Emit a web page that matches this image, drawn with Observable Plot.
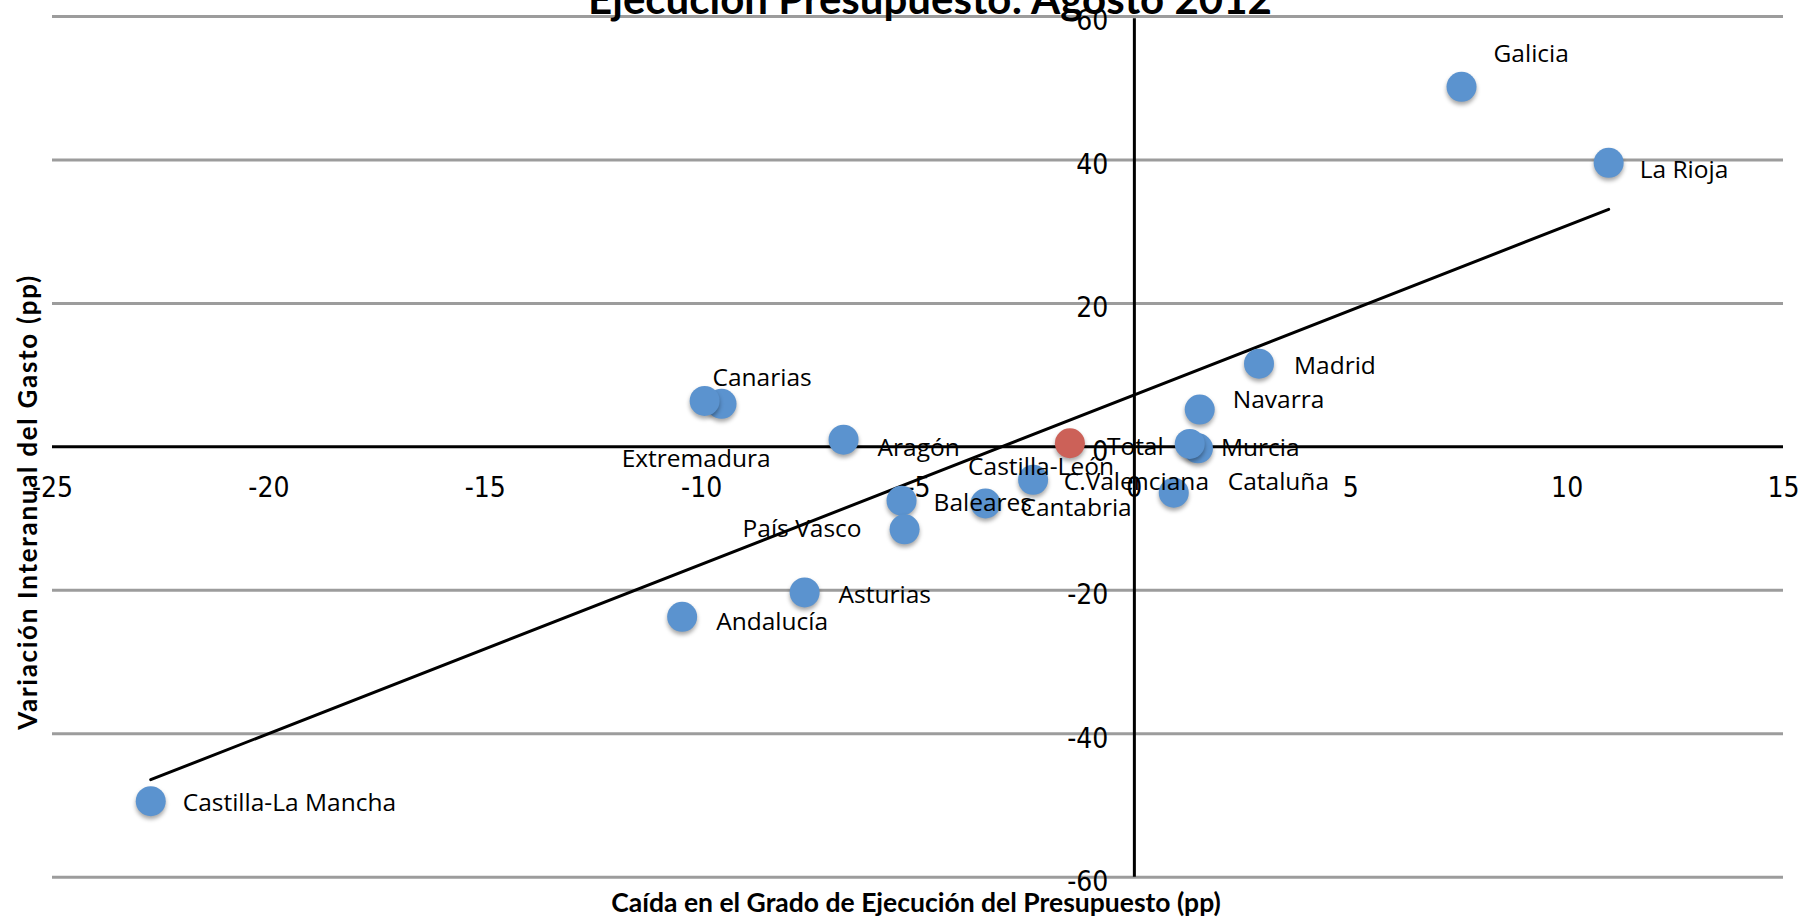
<!DOCTYPE html>
<html>
<head>
<meta charset="utf-8">
<script src="https://cdn.jsdelivr.net/npm/d3@7"></script>
<script src="https://cdn.jsdelivr.net/npm/@observablehq/plot@0.6"></script>
<style>
  html, body { margin: 0; padding: 0; background: #fff; overflow: hidden; }
  #wrap { position: relative; width: 1802px; height: 919px; }
  .title { position: absolute; left: 930px; top: -23px; transform: translateX(-50%);
           font-family: Lato, sans-serif; font-weight: bold; font-size: 42px; line-height: 42px; white-space: nowrap; color: #000; }
  .xtitle { position: absolute; left: 916px; top: 889px; transform: translateX(-50%);
           font-family: Lato, sans-serif; font-weight: bold; font-size: 26.5px; line-height: 26px; white-space: nowrap; color: #000; }
  .ytitle { position: absolute; left: 27px; top: 502px; transform: translate(-50%, -50%) rotate(-90deg);
           font-family: Lato, sans-serif; font-weight: bold; font-size: 26px; line-height: 26px; letter-spacing: 1.7px; white-space: nowrap; color: #000; }
  svg g[aria-label="dot"] circle { filter: drop-shadow(0px 3px 2px rgba(0,0,0,0.35)); }
</style>
</head>
<body>
<div id="wrap">
  <div id="chart"></div>
  <div class="title">Ejecución Presupuesto: Agosto 2012</div>
  <div class="ytitle">Variación Interanual del Gasto (pp)</div>
  <div class="xtitle">Caída en el Grado de Ejecución del Presupuesto (pp)</div>
</div>
<script>
const regiones = ["Galicia","La Rioja","Madrid","Navarra","Murcia","C.Valenciana","Cataluña","Castilla-León","Cantabria","Baleares","País Vasco","Aragón","Canarias","Extremadura","Asturias","Andalucía","Castilla-La Mancha"];
const caida = [7.56, 10.96, 2.88, 1.51, 1.47, 1.28, 0.91, -2.34, -3.44, -5.38, -5.31, -6.72, -9.54, -9.93, -7.62, -10.45, -22.73];
const variacion = [50.2, 39.6, 11.6, 5.2, -0.2, 0.4, -6.4, -4.6, -7.9, -7.5, -11.5, 1.0, 6.0, 6.4, -20.3, -23.7, -49.4];
const totalNombre = ["Total"];
const totalCaida = [-1.49];
const totalVariacion = [0.5];
const xTicks = [-25, -20, -15, -10, -5, 0, 5, 10, 15];
const yTicks = [-60, -40, -20, 0, 20, 40, 60];

// label placement (pixel offsets from each point)
const labelOffset = {
  "Galicia": [32, -33], "La Rioja": [31, 7], "Madrid": [35, 3], "Navarra": [33, -9],
  "Murcia": [23, 0], "C.Valenciana": [-126, 38], "Cataluña": [54, -11], "Castilla-León": [-65, -13],
  "Cantabria": [35, 5], "Baleares": [32, 3], "País Vasco": [-162, 0], "Aragón": [34, 8],
  "Canarias": [-9, -26], "Extremadura": [-83, 58], "Asturias": [34, 3], "Andalucía": [34, 5],
  "Castilla-La Mancha": [32, 2], "Total": [37, 4]
};

const data = regiones.map((n, i) => ({name: n, x: caida[i], y: variacion[i]}));
const total = totalNombre.map((n, i) => ({name: n, x: totalCaida[i], y: totalVariacion[i]}));

const labelFont = {fontFamily: "'Open Sans', sans-serif", fontSize: 24.5, fill: "#000"};
const tickFont = {fontFamily: "'Liberation Sans Narrow', 'DejaVu Sans Condensed', sans-serif", fontSize: 28, fill: "#000"};

const labels = [...data, ...total].map(d => Plot.text([d], {
  x: "x", y: "y", text: "name", textAnchor: "start",
  dx: labelOffset[d.name][0], dy: labelOffset[d.name][1], ...labelFont
}));

const plot = Plot.plot({
  width: 1802,
  height: 919,
  marginLeft: 52,
  marginRight: 19,
  marginTop: 16,
  marginBottom: 42.3,
  x: {domain: [-25, 15], axis: null},
  y: {domain: [-60, 60], axis: null},
  style: {background: "#fff", overflow: "visible"},
  marks: [
    Plot.ruleY(yTicks.filter(d => d !== 0), {y: d => d, stroke: "#9c9c9c", strokeWidth: 3}),
    Plot.ruleY([0], {stroke: "#000", strokeWidth: 3}),
    Plot.ruleX([0], {stroke: "#000", strokeWidth: 3, y1: -60, y2: 59.7}),
    Plot.text(xTicks, {x: d => d, y: 0, dy: 41, text: d => String(d), textAnchor: "middle", ...tickFont}),
    Plot.text(yTicks, {x: 0, y: d => d, dx: -26, dy: 5, text: d => String(d), textAnchor: "end", ...tickFont}),
    Plot.linearRegressionY(data, {x: "x", y: "y", stroke: "#000", strokeWidth: 3, ci: 0}),
    Plot.dot(data, {x: "x", y: "y", r: 15, fill: "#5b93cf"}),
    Plot.dot(total, {x: "x", y: "y", r: 15, fill: "#cc6158"}),
    ...labels
  ]
});
document.getElementById("chart").appendChild(plot);
</script>
</body>
</html>
